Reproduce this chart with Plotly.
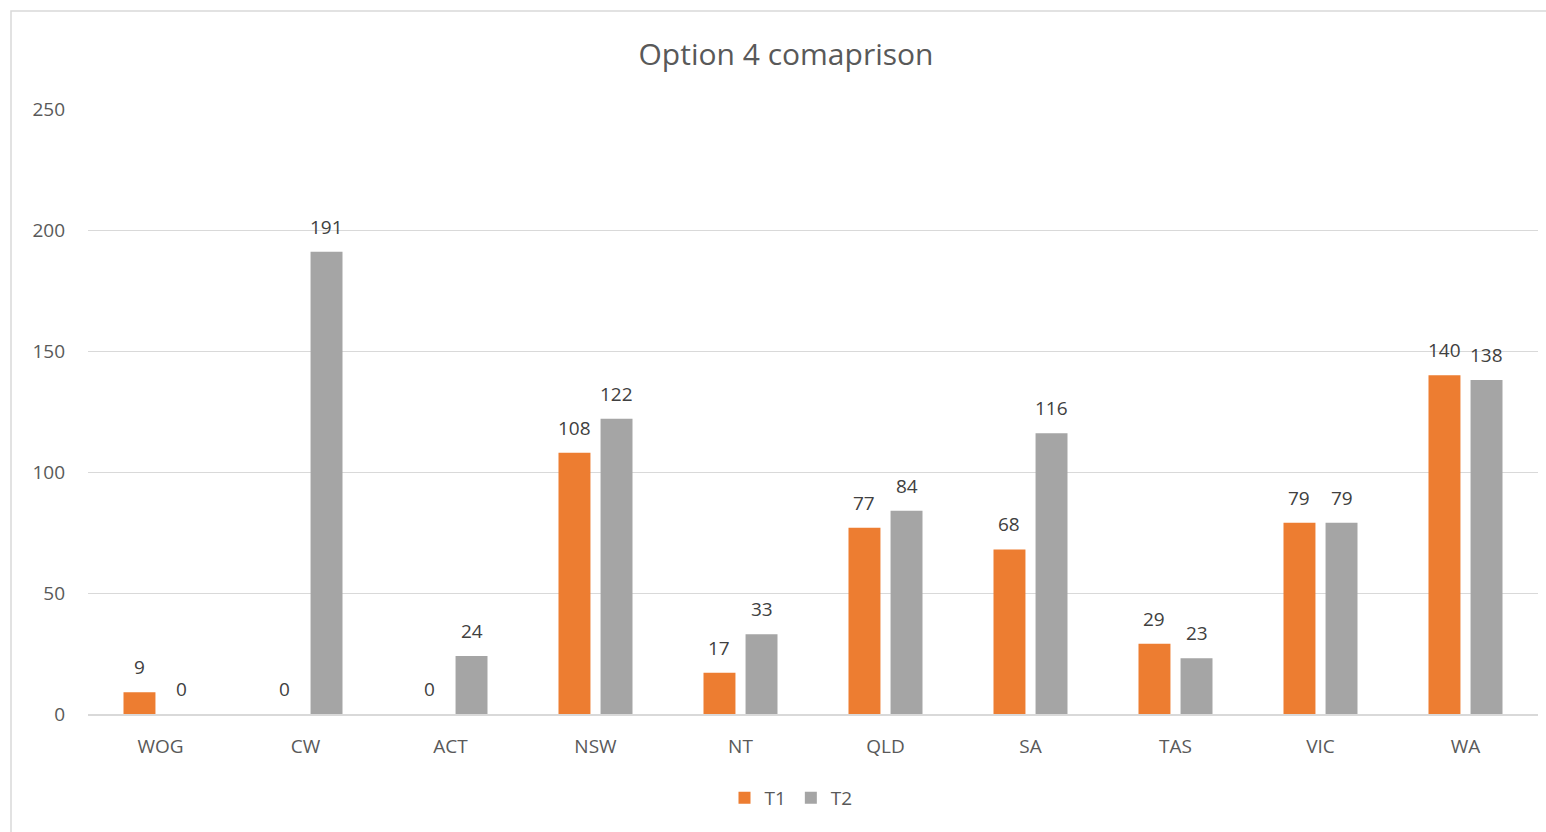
import plotly.graph_objects as go

categories = ["WOG", "CW", "ACT", "NSW", "NT", "QLD", "SA", "TAS", "VIC", "WA"]
t1_values = [9, 0, 0, 108, 17, 77, 68, 29, 79, 140]
t2_values = [0, 191, 24, 122, 33, 84, 116, 23, 79, 138]
y_ticks = [0, 50, 100, 150, 200, 250]

ORANGE = "#ED7D31"
GREY = "#A5A5A5"
TEXT = "#595959"
LABEL = "#404040"
GRID = "#D9D9D9"
FONT = "Open Sans"

W, H = 1546, 832
L, R, T, B = 88, 8, 109, 118
plot_w = W - L - R
plot_h = H - T - B

series = [("T1", t1_values, ORANGE), ("T2", t2_values, GREY)]

fig = go.Figure()
for name, vals, color in series:
    fig.add_trace(go.Bar(
        name=name, x=categories, y=vals,
        marker=dict(color=color, line=dict(width=0)),
        offsetgroup=name,
    ))

# value labels sitting above each bar
bargap, bargroupgap = 0.42, 0.24
slot = (1 - bargap) / len(series)
for i, (name, vals, color) in enumerate(series):
    shift = (i - (len(series) - 1) / 2) * slot
    for j, v in enumerate(vals):
        fig.add_annotation(
            x=j + shift, y=v, xref="x", yref="y",
            text=str(v), showarrow=False, yanchor="middle", yshift=25,
            font=dict(family=FONT, size=19, color=LABEL),
        )

# outer chart border (left and top edges visible, others run off the page)
def px_to_paper_x(px):
    return (px - L) / plot_w

def px_to_paper_y(py):
    return (H - B - py) / plot_h

fig.add_shape(
    type="rect", xref="paper", yref="paper",
    x0=px_to_paper_x(11), x1=px_to_paper_x(W + 10),
    y0=px_to_paper_y(H + 10), y1=px_to_paper_y(11),
    line=dict(color=GRID, width=1.5), fillcolor="rgba(0,0,0,0)", layer="below",
)

fig.update_layout(
    width=W, height=H,
    margin=dict(l=L, r=R, t=T, b=B),
    paper_bgcolor="white", plot_bgcolor="white",
    title=dict(text="Option 4 comaprison", x=786 / W, xanchor="center",
               y=1 - 54 / H, yanchor="middle",
               font=dict(family=FONT, size=30, color=TEXT)),
    barmode="group", bargap=bargap, bargroupgap=bargroupgap,
    font=dict(family=FONT, color=TEXT),
    showlegend=True,
    legend=dict(orientation="h", x=px_to_paper_x(791), xanchor="center",
                y=px_to_paper_y(798), yanchor="middle",
                font=dict(family=FONT, size=19, color=TEXT),
                itemwidth=30, traceorder="normal"),
)
fig.update_xaxes(
    type="category", range=[-0.5, len(categories) - 0.5],
    showgrid=False, showline=True, linecolor=GRID, linewidth=1.5,
    ticks="", tickfont=dict(family=FONT, size=19, color=TEXT),
    ticklabelstandoff=14, fixedrange=True,
)
fig.update_yaxes(
    range=[0, 250], tickvals=y_ticks, showgrid=True, gridcolor=GRID, gridwidth=1.2,
    zeroline=False, showline=False, ticks="",
    tickfont=dict(family=FONT, size=19, color=TEXT),
    ticklabelstandoff=22, fixedrange=True,
)

fig.write_html("out.html", config={"displayModeBar": False})
